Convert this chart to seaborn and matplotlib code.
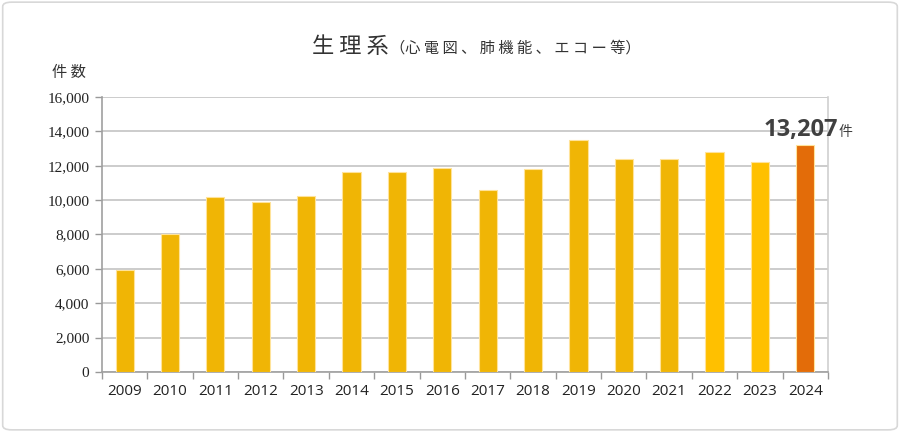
import numpy as np
import pandas as pd
import seaborn as sns
import matplotlib.pyplot as plt
from matplotlib.patches import FancyBboxPatch

# Data
years = ['2009', '2010', '2011', '2012', '2013', '2014', '2015', '2016',
         '2017', '2018', '2019', '2020', '2021', '2022', '2023', '2024']
counts = [5950, 8000, 10180, 9890, 10240, 11610, 11610, 11870,
          10600, 11810, 13520, 12380, 12380, 12800, 12240, 13207]
bar_colors = ['#F0B505'] * 13 + ['#FFC000', '#FFC000', '#E36C09']
y_ticks = [0, 2000, 4000, 6000, 8000, 10000, 12000, 14000, 16000]

df = pd.DataFrame({'year': years, 'count': counts})

sns.set_theme(style='white')
plt.rcParams['font.family'] = ['Noto Sans CJK JP', 'DejaVu Sans']

fig = plt.figure(figsize=(9, 4.32), dpi=100)
ax = fig.add_axes([0.1133, 0.1389, 0.8067, 0.6366])

sns.barplot(data=df, x='year', y='count', hue='year', palette=bar_colors,
            legend=False, width=0.4, ax=ax, edgecolor='#FFE39A', linewidth=0.8,
            saturation=1, zorder=3)

ax.set_ylim(0, 16000)
ax.set_xlim(-0.5, len(years) - 0.5)
ax.set_yticks(y_ticks)
ax.set_yticklabels([f'{v:,}' for v in y_ticks], fontsize=11, color='#222222')
for lbl in ax.get_yticklabels():
    lbl.set_family(['Liberation Serif', 'DejaVu Serif'])
ax.grid(axis='y', color='#C8C8C8', linewidth=1.3, zorder=0)
ax.set_axisbelow(True)

# x tick marks between categories
ax.set_xticks(np.arange(-0.5, len(years), 1), minor=True)
ax.tick_params(axis='x', which='minor', length=5, width=1, color='#999999',
               direction='out', bottom=True)
ax.tick_params(axis='x', which='major', length=0, pad=9, labelsize=11,
               labelcolor='#222222')
ax.tick_params(axis='y', which='major', length=5, width=1, color='#999999',
               direction='out', left=True, pad=4)
for lbl in ax.get_xticklabels():
    lbl.set_family(['Open Sans', 'DejaVu Sans'])

ax.set_xlabel('')
ax.set_ylabel('')
for side in ['left', 'bottom', 'right']:
    ax.spines[side].set_color('#A0A0A0')
    ax.spines[side].set_linewidth(1.2)
ax.spines['right'].set_color('#D0D0D0')
ax.spines['top'].set_visible(False)

# Highlight label on latest year
last_x = len(years) - 1
ax.annotate(f'{counts[-1]:,}', xy=(last_x, counts[-1]), xytext=(-3, 2),
            textcoords='offset points', ha='center', va='bottom',
            fontsize=17, fontweight='bold', color='#404040',
            family=['Open Sans', 'DejaVu Sans'])
ax.annotate('件', xy=(last_x, counts[-1]), xytext=(29, 4),
            textcoords='offset points', ha='center', va='bottom',
            fontsize=10, color='#404040')

# Titles (spaced out like the original)
title_main = ' '.join('生理系')
title_sub = '（' + ' '.join('心電図、肺機能、エコー等') + '）'
fig.text(0.432, 0.893, title_main, fontsize=16, color='#333333', ha='right', va='center')
fig.text(0.433, 0.889, title_sub, fontsize=11, color='#333333', ha='left', va='center')
fig.text(0.058, 0.833, '件 数', fontsize=11, color='#333333', ha='left', va='center')

# Outer rounded frame
frame = FancyBboxPatch((0.003, 0.005), 0.994, 0.99, boxstyle='round,pad=0,rounding_size=0.01',
                       transform=fig.transFigure, fill=False, edgecolor='#D8D8D8',
                       linewidth=1.2)
fig.patches.append(frame)

fig.savefig('out.png', dpi=100)
